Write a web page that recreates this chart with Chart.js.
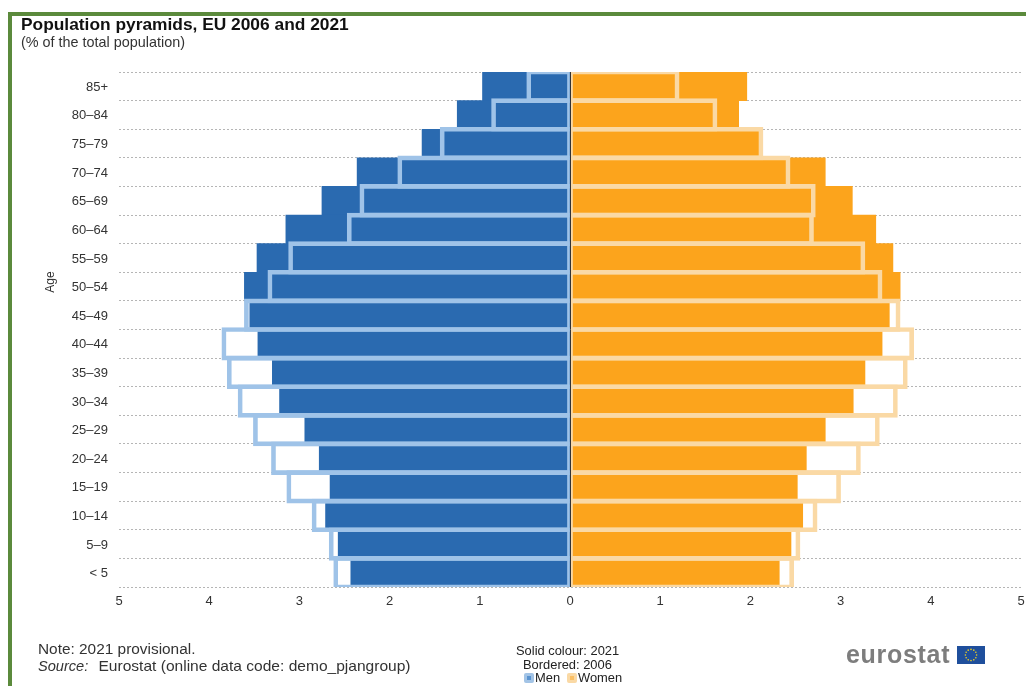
<!DOCTYPE html>
<html>
<head>
<meta charset="utf-8">
<title>Population pyramids, EU 2006 and 2021</title>
<script src="https://cdn.jsdelivr.net/npm/chart.js@4"></script>
<style>
  html, body { margin:0; padding:0; background:#fff; overflow:hidden; }
  body { width:1026px; height:686px; position:relative; font-family:"Liberation Sans", Arial, sans-serif; color:#222; }
  #frame { position:absolute; left:8px; top:12px; right:0; bottom:0; border-left:4px solid #5b8a3c; border-top:4px solid #5b8a3c; }
  canvas { position:absolute; left:0; top:0; }
  .txt { position:absolute; white-space:nowrap; }
  .swatch { position:absolute; width:10px; height:10px; border-radius:2px; }
  .swatch i { position:absolute; left:3px; top:3px; width:4px; height:4px; }
</style>
</head>
<body>
<div id="frame"></div>
<canvas id="pyramid" width="1026" height="686"></canvas>

<div class="txt" style="left:21px;top:14px;font-size:17.35px;font-weight:bold;color:#111">Population pyramids, EU 2006 and 2021</div>
<div class="txt" style="left:21px;top:34px;font-size:14.4px;color:#333">(% of the total population)</div>
<div class="txt" style="left:38px;top:640px;font-size:15.4px;color:#333">Note: 2021 provisional.</div>
<div class="txt" style="left:38px;top:658px;font-size:14.6px;color:#333"><i>Source:</i></div>
<div class="txt" style="left:98.5px;top:657px;font-size:15.55px;color:#333">Eurostat (online data code: demo_pjangroup)</div>
<div class="txt" style="left:516px;top:643px;font-size:12.9px">Solid colour: 2021</div>
<div class="txt" style="left:523px;top:657px;font-size:12.9px">Bordered: 2006</div>
<div class="swatch" style="left:524px;top:673px;background:#a3c4e6"><i style="background:#5b94d0"></i></div>
<div class="txt" style="left:535px;top:670px;font-size:12.9px">Men</div>
<div class="swatch" style="left:567px;top:673px;background:#fad9a5"><i style="background:#fbbf63"></i></div>
<div class="txt" style="left:578px;top:670px;font-size:12.9px">Women</div>
<div class="txt" style="left:846px;top:640px;font-size:25px;font-weight:bold;color:#7d7d7d;letter-spacing:0.7px">eurostat</div>
<svg id="flag" style="position:absolute;left:957px;top:646px" width="28" height="18"></svg>
<div class="txt" style="left:36px;top:275px;width:28px;text-align:center;font-size:12px;color:#333;transform:rotate(-90deg)">Age</div>

<script>
const ageGroups = ['85+','80–84','75–79','70–74','65–69','60–64','55–59','50–54','45–49','40–44','35–39','30–34','25–29','20–24','15–19','10–14','5–9','< 5'];
const men2021   = [0.97,1.25,1.64,2.36,2.75,3.15,3.47,3.61,3.55,3.46,3.30,3.22,2.94,2.78,2.66,2.71,2.57,2.43];
const women2021 = [1.96,1.87,2.10,2.83,3.13,3.39,3.58,3.66,3.54,3.46,3.27,3.14,2.83,2.62,2.52,2.58,2.45,2.32];
const men2006   = [0.48,0.87,1.44,1.91,2.33,2.47,3.12,3.35,3.61,3.86,3.80,3.68,3.51,3.31,3.14,2.86,2.67,2.62];
const women2006 = [1.21,1.63,2.14,2.44,2.72,2.70,3.27,3.46,3.66,3.81,3.74,3.63,3.43,3.22,3.00,2.74,2.55,2.48];
const xTicks = [-5,-4,-3,-2,-1,0,1,2,3,4,5];

const neg = a => a.map(v => -v);

function solid(data, color, order){
  return {data, backgroundColor:color, borderWidth:0, grouped:false, order, clip:0, barPercentage:1, categoryPercentage:1};
}
// outlined bars are a bit taller than a row so neighbouring borders land on the same line
function outline(data, color, order, bw){
  return {data, backgroundColor:'rgba(0,0,0,0)', borderColor:color, borderWidth:bw, borderSkipped:false,
    grouped:false, order, clip:0, barThickness:32.6};
}

new Chart(document.getElementById('pyramid').getContext('2d'), {
  type:'bar',
  data:{
    labels:ageGroups,
    datasets:[
      outline(neg(men2006), '#9fc3e8', 1, {top:4,bottom:4,left:4,right:2}),
      outline(women2006, '#fad9a5', 1, {top:4,bottom:4,left:2,right:4}),
      solid(neg(men2021), '#2a6ab0', 2),
      solid(women2021, '#fca41c', 2)
    ]
  },
  options:{
    indexAxis:'y',
    responsive:false,
    animation:false,
    layout:{padding:{left:43,top:72,right:5,bottom:74}},
    plugins:{legend:{display:false},tooltip:{enabled:false}},
    scales:{
      x:{
        min:-5, max:5,
        afterBuildTicks:s=>{ s.ticks = xTicks.map(value=>({value})); },
        afterFit:s=>{ s.height = 25; s.paddingLeft = 0; s.paddingRight = 0; },
        border:{display:false},
        grid:{drawTicks:false, z:1, color:c=>c.tick && c.tick.value===0 ? '#333':'rgba(0,0,0,0)', lineWidth:1},
        ticks:{padding:7, color:'#333', font:{family:'"Liberation Sans"',size:13}, maxRotation:0, callback:v=>Math.abs(v)}
      },
      y:{
        offset:true,
        afterFit:s=>{ s.width = 76; },
        border:{display:false, dash:[2,2]},
        grid:{drawTicks:false, color:'#b5b5b5', lineWidth:1},
        ticks:{padding:11, labelOffset:1, color:'#333', autoSkip:false, font:{family:'"Liberation Sans"',size:13}}
      }
    }
  }
});

// EU flag beside the wordmark
const flag = document.getElementById('flag');
let stars = '<rect width="28" height="18" fill="#1f4f9c"/>';
for(let i=0;i<12;i++){
  const a = i*Math.PI/6;
  stars += `<circle cx="${14+5.6*Math.cos(a)}" cy="${9+5.6*Math.sin(a)}" r="0.8" fill="#f2d21f"/>`;
}
flag.innerHTML = stars;
</script>
</body>
</html>
